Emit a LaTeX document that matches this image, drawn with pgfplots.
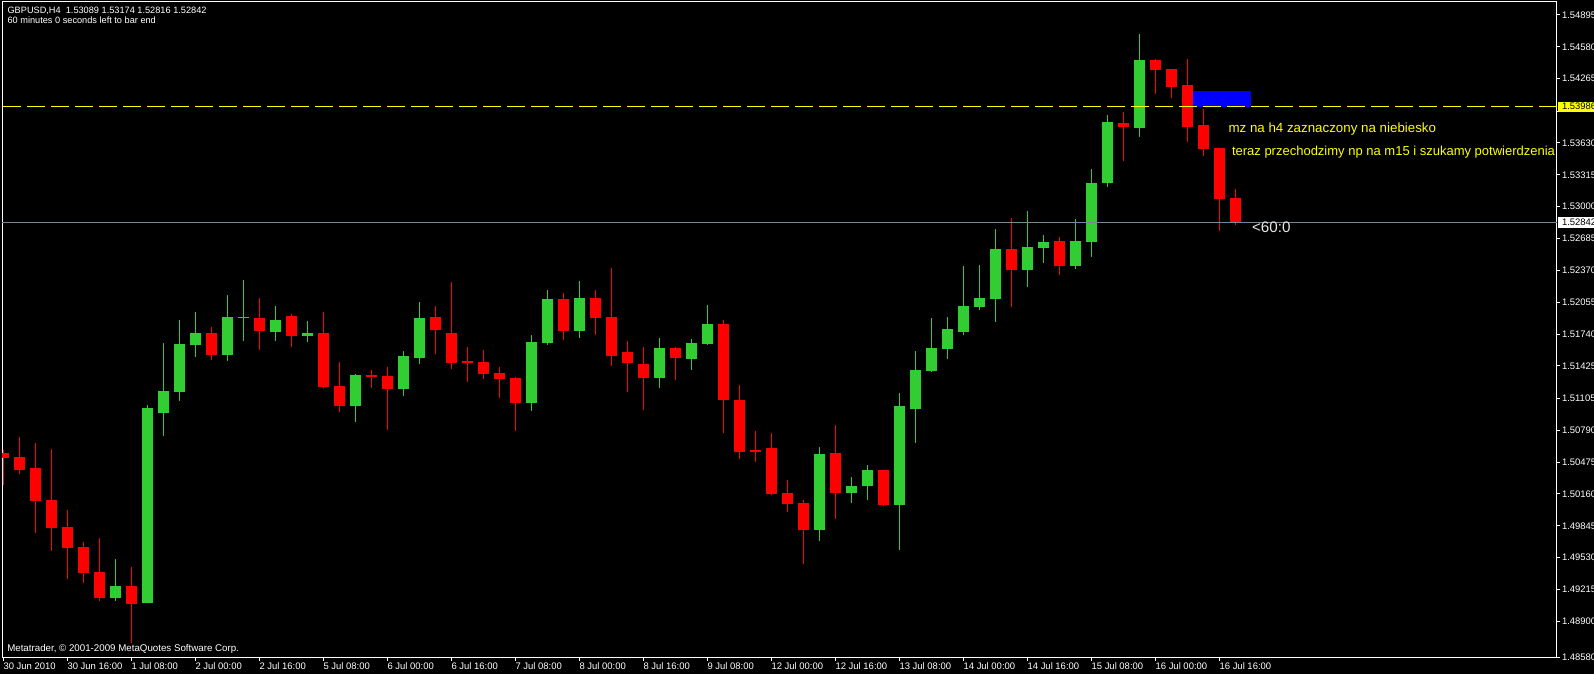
\documentclass[border=0pt]{standalone}
\usepackage{pgfplots}
\pgfplotsset{compat=1.18}
\usepackage{pgfplotstable}
\usepackage{fontspec}
\setmainfont{Liberation Sans}
\definecolor{mtgreen}{RGB}{50,205,50}
\definecolor{mtred}{RGB}{255,0,0}
\definecolor{mtblue}{RGB}{0,0,255}
\definecolor{mtyellow}{RGB}{255,255,0}
\definecolor{bidline}{RGB}{119,136,153}
\definecolor{lbl}{RGB}{232,232,232}
\newcommand{\ticksfont}{\fontsize{7.1bp}{8bp}\selectfont}

% bullish candles: index open high low close
\pgfplotstableread{
i o h l c
7 1.49134 1.49517 1.49105 1.49250
9 1.49085 1.51039 1.49080 1.51010
10 1.50963 1.51652 1.50736 1.51178
11 1.51171 1.51880 1.51082 1.51642
12 1.51636 1.51959 1.51517 1.51751
14 1.51537 1.52127 1.51477 1.51909
15 1.51900 1.52275 1.51675 1.51909
17 1.51764 1.52018 1.51675 1.51880
19 1.51725 1.51870 1.51665 1.51751
22 1.51032 1.51346 1.50874 1.51336
25 1.51201 1.51573 1.51131 1.51524
26 1.51507 1.52058 1.51448 1.51900
33 1.51062 1.51731 1.50983 1.51662
34 1.51655 1.52176 1.51636 1.52087
36 1.51774 1.52265 1.51705 1.52097
41 1.51309 1.51702 1.51210 1.51603
43 1.51497 1.51692 1.51388 1.51652
44 1.51645 1.52028 1.51636 1.51840
51 1.49807 1.50624 1.49698 1.50555
53 1.50172 1.50328 1.50074 1.50239
54 1.50242 1.50446 1.50103 1.50397
56 1.50054 1.51158 1.49609 1.51030
57 1.51003 1.51573 1.50667 1.51385
58 1.51378 1.51900 1.51369 1.51603
59 1.51596 1.51909 1.51497 1.51791
60 1.51764 1.52414 1.51731 1.52018
61 1.52011 1.52423 1.51982 1.52097
62 1.52090 1.52779 1.51863 1.52582
64 1.52377 1.52957 1.52209 1.52601
65 1.52592 1.52720 1.52446 1.52651
67 1.52417 1.52878 1.52387 1.52661
68 1.52654 1.53373 1.52506 1.53234
69 1.53237 1.53906 1.53198 1.53837
71 1.53781 1.54707 1.53692 1.54450
}\bull

% bearish candles: index open high low close
\pgfplotstableread{
i o h l c
0 1.50565 1.50594 1.50248 1.50518
1 1.50525 1.50723 1.50360 1.50400
2 1.50417 1.50664 1.49777 1.50093
3 1.50100 1.50604 1.49599 1.49826
4 1.49833 1.50001 1.49319 1.49629
5 1.49636 1.49685 1.49283 1.49381
6 1.49388 1.49725 1.49105 1.49134
8 1.49250 1.49438 1.48686 1.49075
13 1.51751 1.51811 1.51487 1.51537
16 1.51900 1.52097 1.51586 1.51774
18 1.51919 1.51939 1.51616 1.51725
20 1.51751 1.51959 1.51210 1.51220
21 1.51227 1.51465 1.50973 1.51032
23 1.51336 1.51385 1.51210 1.51316
24 1.51326 1.51415 1.50795 1.51201
27 1.51909 1.52018 1.51547 1.51784
28 1.51751 1.52255 1.51398 1.51458
29 1.51474 1.51613 1.51270 1.51458
30 1.51465 1.51583 1.51299 1.51349
31 1.51356 1.51415 1.51112 1.51299
32 1.51306 1.51316 1.50785 1.51062
35 1.52087 1.52147 1.51685 1.51774
37 1.52097 1.52176 1.51734 1.51902
38 1.51909 1.52394 1.51428 1.51527
39 1.51563 1.51672 1.51171 1.51458
40 1.51445 1.51613 1.50993 1.51309
42 1.51603 1.51613 1.51290 1.51507
45 1.51840 1.51880 1.50766 1.51092
46 1.51092 1.51237 1.50509 1.50578
47 1.50594 1.50782 1.50479 1.50578
48 1.50614 1.50763 1.50153 1.50162
49 1.50169 1.50298 1.49985 1.50064
50 1.50071 1.50100 1.49467 1.49807
52 1.50565 1.50842 1.49915 1.50172
55 1.50397 1.50400 1.50044 1.50054
63 1.52582 1.52888 1.52011 1.52377
66 1.52661 1.52700 1.52328 1.52417
70 1.53827 1.53936 1.53455 1.53791
72 1.54450 1.54460 1.54117 1.54354
73 1.54361 1.54365 1.54077 1.54186
74 1.54203 1.54460 1.53642 1.53791
75 1.53808 1.53966 1.53504 1.53573
76 1.53580 1.53585 1.52763 1.53079
77 1.53089 1.53174 1.52816 1.52842
}\bear

\begin{document}
\begin{tikzpicture}
\fill[black] (-1.5bp,-12.225bp) rectangle (1194bp,493.275bp);
\useasboundingbox (-1.5bp,-12.225bp) rectangle (1194bp,493.275bp);
\begin{axis}[
  at={(0bp,0bp)}, anchor=south west,
  scale only axis, width=1166.0bp, height=491.775bp,
  xmin=-0.08125, xmax=97.0875, ymin=1.485411, ymax=1.550235,
  clip mode=individual,
  axis line style={white, line width=0.75bp},
  tick align=outside, major tick length=2.25bp,
  tick style={white, line width=0.75bp},
  xtick pos=left, ytick pos=right,
  xtick={0,4,...,76},
  xticklabels={30 Jun 2010, 30 Jun 16:00, 1 Jul 08:00, 2 Jul 00:00, 2 Jul 16:00, 5 Jul 08:00, 6 Jul 00:00, 6 Jul 16:00, 7 Jul 08:00, 8 Jul 00:00, 8 Jul 16:00, 9 Jul 08:00, 12 Jul 00:00, 12 Jul 16:00, 13 Jul 08:00, 14 Jul 00:00, 14 Jul 16:00, 15 Jul 08:00, 16 Jul 00:00, 16 Jul 16:00},
  ytick={1.48545,1.48900,1.49215,1.49530,1.49845,1.50160,1.50475,1.50790,1.51105,1.51425,1.51740,1.52055,1.52370,1.52685,1.53000,1.53315,1.53630,1.53945,1.54265,1.54580,1.54895},
  yticklabels={1.48580,1.48900,1.49215,1.49530,1.49845,1.50160,1.50475,1.50790,1.51105,1.51425,1.51740,1.52055,1.52370,1.52685,1.53000,1.53315,1.53630,{},1.54265,1.54580,1.54895},
  xticklabel style={anchor=north west, inner sep=0pt, text=white, font=\ticksfont},
  yticklabel style={anchor=west, inner sep=0pt, text=white, font=\ticksfont},
  xticklabel shift=1.25bp, yticklabel shift=1.5bp,
  scaled ticks=false,
]
% blue zone
\addplot[fill=mtblue, draw=none, forget plot] coordinates {(74.375,1.53986) (77.98,1.53986) (77.98,1.54144) (74.375,1.54144)} --cycle;
% wicks
\addplot[draw=none, mark=none, forget plot, error bars/.cd, y dir=plus, y explicit, error mark=none,
  error bar style={solid, draw=mtgreen, line width=0.75bp}]
  table[x=i, y=l, y error plus expr=\thisrow{h}-\thisrow{l}] {\bull};
\addplot[draw=none, mark=none, forget plot, error bars/.cd, y dir=plus, y explicit, error mark=none,
  error bar style={solid, draw=mtred, line width=0.75bp}]
  table[x=i, y=l, y error plus expr=\thisrow{h}-\thisrow{l}] {\bear};
% bodies
\addplot[draw=none, mark=none, forget plot, error bars/.cd, y dir=plus, y explicit, error mark=none,
  error bar style={solid, draw=mtgreen, line width=8.25bp}]
  table[x=i, y=o, y error plus expr=\thisrow{c}-\thisrow{o}] {\bull};
\addplot[draw=none, mark=none, forget plot, error bars/.cd, y dir=plus, y explicit, error mark=none,
  error bar style={solid, draw=mtred, line width=8.25bp}]
  table[x=i, y=c, y error plus expr=\thisrow{o}-\thisrow{c}] {\bear};
% horizontal lines
\addplot[mtyellow, line width=0.75bp, dash pattern=on 13.3bp off 4.7bp, forget plot] coordinates {(0,1.53986) (97.0875,1.53986)};
\addplot[bidline, line width=0.75bp, forget plot] coordinates {(-0.08125,1.52842) (97.0875,1.52842)};
\end{axis}
% price boxes on the right scale
\fill[mtyellow] (1166.8bp,409.5bp) rectangle (1194bp,417bp);
\node[anchor=west, inner sep=0pt, text=black, font=\ticksfont] at (1169.8bp,413.25bp) {1.53986};
\fill[white] (1166.8bp,322.3bp) rectangle (1194bp,330.3bp);
\node[anchor=west, inner sep=0pt, text=black, font=\ticksfont] at (1169.8bp,326.3bp) {1.52842};
% header
\node[anchor=base west, inner sep=0pt, text=white, font=\fontsize{6.9bp}{8bp}\selectfont] at (3.98bp,482.8bp) {GBPUSD,H4\ \ 1.53089 1.53174 1.52816 1.52842};
\node[anchor=base west, inner sep=0pt, text=white, font=\fontsize{6.9bp}{8bp}\selectfont] at (3.98bp,475.5bp) {60 minutes 0 seconds left to bar end};
\node[anchor=base west, inner sep=0pt, text=white, font=\fontsize{7.3bp}{8bp}\selectfont] at (3.75bp,5.0bp) {Metatrader, © 2001-2009 MetaQuotes Software Corp.};
% annotations
\begin{scope}
\clip (0bp,0bp) rectangle (1166bp,491.775bp);
\node[anchor=base west, inner sep=0pt, text=mtyellow, font=\fontsize{10bp}{12bp}\selectfont] at (919.7bp,394.05bp) {mz na h4 zaznaczony na niebiesko};
\node[anchor=base west, inner sep=0pt, text=mtyellow, font=\fontsize{9.75bp}{12bp}\selectfont] at (922.3bp,376.8bp) {teraz przechodzimy np na m15 i szukamy potwierdzenia};
\node[anchor=base west, inner sep=0pt, text=lbl, font=\fontsize{11.4bp}{13bp}\selectfont] at (937.3bp,318.75bp) {<60:0};
\end{scope}
\end{tikzpicture}
\end{document}
